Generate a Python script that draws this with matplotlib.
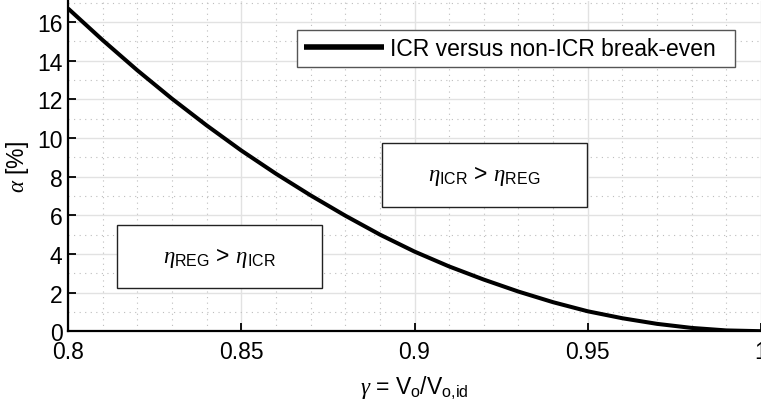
import numpy as np
import matplotlib
matplotlib.use("Agg")
import matplotlib.pyplot as plt
from matplotlib.patches import Rectangle
from matplotlib.ticker import MultipleLocator, FuncFormatter

plt.rcParams['font.family'] = ['Liberation Sans', 'DejaVu Sans']
plt.rcParams['mathtext.fontset'] = 'custom'
plt.rcParams['mathtext.rm'] = 'Liberation Sans'
plt.rcParams['mathtext.it'] = 'Liberation Serif:italic'
plt.rcParams['mathtext.bf'] = 'Liberation Sans:bold'

FS = 16.5

# break-even curve: required alpha [%] vs gamma = Vo/Vo,id
gamma = [0.80, 0.81, 0.82, 0.83, 0.84, 0.85, 0.86, 0.87, 0.88, 0.89, 0.90,
         0.91, 0.92, 0.93, 0.94, 0.95, 0.96, 0.97, 0.98, 0.99, 1.00]
alpha = [16.7, 15.06, 13.5, 12.03, 10.65, 9.35, 8.15, 7.03, 5.98, 5.0, 4.12,
         3.35, 2.67, 2.05, 1.5, 1.03, 0.67, 0.38, 0.17, 0.04, 0.0]

x_ticks = [0.8, 0.85, 0.9, 0.95, 1.0]
y_ticks = [0, 2, 4, 6, 8, 10, 12, 14, 16]

# region labels (text, x0, x1, y0, y1)
regions = [
    (r'$\eta_{\rm REG}$ > $\eta_{\rm ICR}$', 0.8141, 0.8733, 2.22, 5.47),
    (r'$\eta_{\rm ICR}$ > $\eta_{\rm REG}$', 0.8906, 0.9497, 6.45, 9.75),
]

fig = plt.figure(figsize=(7.61, 4.02), dpi=100)
ax = fig.add_axes([68 / 761, 1 - 332.2 / 402, 1 - 68 / 761, (332.2 - 1.7) / 402])

# trailing spaces give the legend box its wider right margin
ax.plot(gamma, alpha, color='black', lw=2.9, solid_capstyle='butt',
        label='ICR versus non-ICR break-even  ', zorder=3)

ax.set_xlim(0.8, 1.0)
ax.set_ylim(0, 17.1)
ax.set_xticks(x_ticks)
ax.set_yticks(y_ticks)
ax.xaxis.set_major_formatter(FuncFormatter(lambda v, p: '%g' % v))
ax.xaxis.set_minor_locator(MultipleLocator(0.01))
ax.yaxis.set_minor_locator(MultipleLocator(1))

ax.grid(which='major', color='#e2e2e2', lw=1.0, ls='-')
ax.grid(which='minor', color='#bdbdbd', lw=0.8, ls=(0, (1, 4)))
ax.set_axisbelow(True)

for side in ['top', 'right']:
    ax.spines[side].set_visible(False)
for side in ['left', 'bottom']:
    ax.spines[side].set_linewidth(1.6)

ax.tick_params(which='major', direction='in', length=6, width=1.3, labelsize=FS)
ax.tick_params(axis='x', which='major', pad=6)
ax.tick_params(axis='y', which='major', pad=4)
ax.tick_params(which='minor', length=0)
plt.setp(ax.get_yticklabels(), va='center_baseline')

ax.set_xlabel(r'$\gamma$ = V$_{\rm o}$/V$_{\rm o{,}id}$', fontsize=FS, labelpad=8)
ax.set_ylabel(r'$\alpha$ [%]', fontsize=FS, labelpad=4)

for txt, x0, x1, y0, y1 in regions:
    ax.add_patch(Rectangle((x0, y0), x1 - x0, y1 - y0, fill=True, facecolor='white',
                           edgecolor='#222222', lw=1.0, zorder=2))
    ax.text((x0 + x1) / 2, (y0 + y1) / 2, txt, ha='center', va='center',
            fontsize=FS, zorder=4)

leg = ax.legend(loc='upper right', bbox_to_anchor=(0.9625, 0.911), borderaxespad=0,
                fontsize=FS, handlelength=3.5, handletextpad=0.25, borderpad=0.3,
                fancybox=False, framealpha=1, edgecolor='#555555')
leg.get_frame().set_linewidth(1.0)
for h in leg.get_lines():
    h.set_linewidth(4.0)

fig.savefig('out.png', dpi=100)
